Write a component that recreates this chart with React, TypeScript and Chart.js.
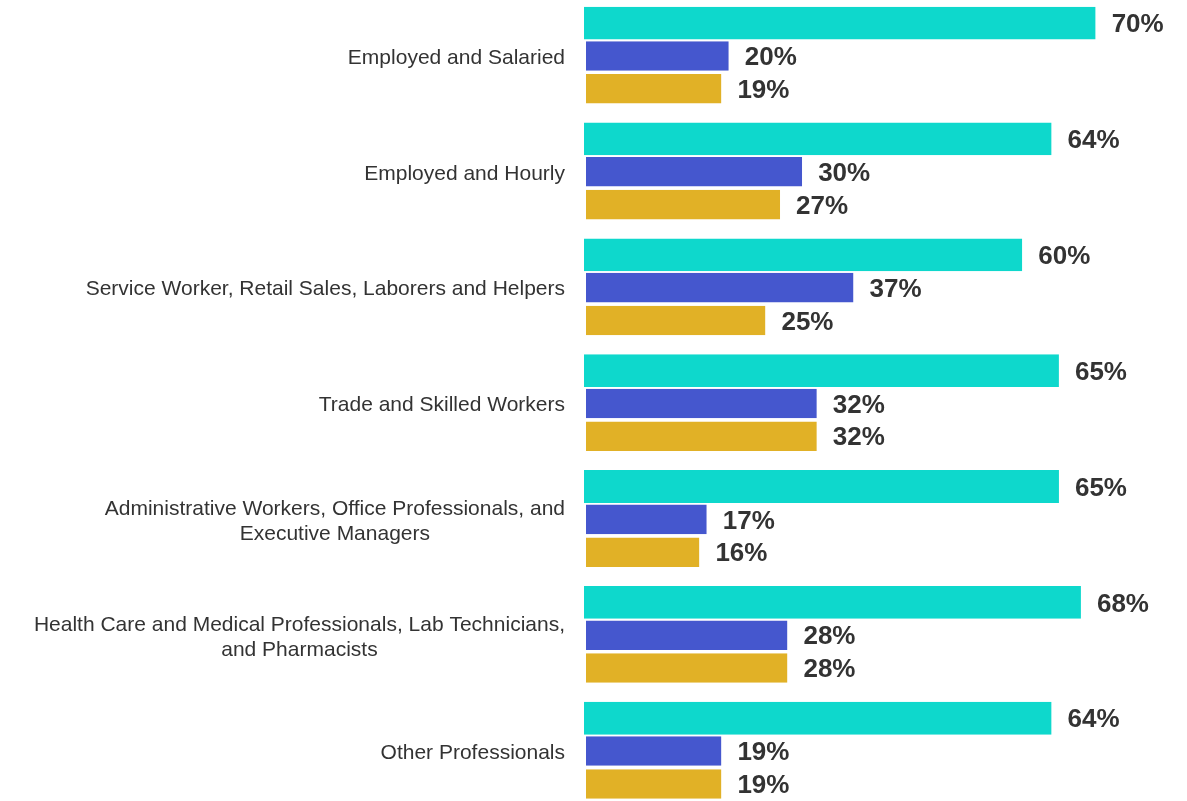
import React, { useEffect, useRef } from "react";
import { Chart, registerables } from "chart.js";

Chart.register(...registerables);

const categories: string[][] = [
  ["Employed and Salaried"],
  ["Employed and Hourly"],
  ["Service Worker, Retail Sales, Laborers and Helpers"],
  ["Trade and Skilled Workers"],
  ["Administrative Workers, Office Professionals, and", "Executive Managers"],
  ["Health Care and Medical Professionals, Lab Technicians,", "and Pharmacists"],
  ["Other Professionals"],
];

const seriesTeal = [70, 64, 60, 65, 65, 68, 64];
const seriesBlue = [20, 30, 37, 32, 17, 28, 19];
const seriesGold = [19, 27, 25, 32, 16, 28, 19];

const colorTeal = "#0ED8CC";
const colorBlue = "#4557CE";
const colorGold = "#E1B126";
const textColor = "#333333";
const fontFamily = '"Liberation Sans", Arimo, Arial, Helvetica, sans-serif';

const yLabelPlugin = {
  id: "yLabels",
  afterDraw(chart: any) {
    const ctx = chart.ctx;
    const yScale = chart.scales.y;
    ctx.save();
    ctx.font = "21px " + fontFamily;
    ctx.fillStyle = textColor;
    ctx.textAlign = "center";
    ctx.textBaseline = "middle";
    const rightEdge = chart.chartArea.left - 17;
    const lineH = 25;
    categories.forEach((lines, i) => {
      const y = yScale.getPixelForTick(i) + 2;
      const widest = Math.max(...lines.map((l) => ctx.measureText(l).width));
      const cx = rightEdge - widest / 2;
      const startY = y - ((lines.length - 1) * lineH) / 2;
      lines.forEach((l, j) => ctx.fillText(l, cx, startY + j * lineH));
    });
    ctx.restore();
  },
};

const valueLabelPlugin = {
  id: "valueLabels",
  afterDatasetsDraw(chart: any) {
    const ctx = chart.ctx;
    ctx.save();
    ctx.font = "bold 26px " + fontFamily;
    ctx.fillStyle = textColor;
    ctx.textAlign = "left";
    ctx.textBaseline = "middle";
    chart.data.datasets.forEach((ds: any, di: number) => {
      const meta = chart.getDatasetMeta(di);
      meta.data.forEach((el: any, i: number) => {
        ctx.fillText(ds.data[i] + "%", el.x + 16, el.y + 2);
      });
    });
    ctx.restore();
  },
};

export default function App() {
  const ref = useRef<HTMLCanvasElement | null>(null);
  useEffect(() => {
    if (!ref.current) return;
    const chart = new Chart(ref.current, {
      type: "bar",
      data: {
        labels: categories.map((c) => c.join(" ")),
        datasets: [
          {
            data: seriesTeal,
            backgroundColor: colorTeal,
            borderColor: "#ffffff",
            borderWidth: { left: 2, top: 0, right: 0, bottom: 0 },
            borderSkipped: false,
            barPercentage: 1.0,
          },
          {
            data: seriesBlue,
            backgroundColor: colorBlue,
            borderColor: "#ffffff",
            borderWidth: { left: 4, top: 0, right: 0, bottom: 0 },
            borderSkipped: false,
            barPercentage: 0.9,
          },
          {
            data: seriesGold,
            backgroundColor: colorGold,
            borderColor: "#ffffff",
            borderWidth: { left: 4, top: 0, right: 0, bottom: 0 },
            borderSkipped: false,
            barPercentage: 0.9,
          },
        ],
      },
      options: {
        indexAxis: "y",
        animation: false,
        responsive: true,
        maintainAspectRatio: false,
        categoryPercentage: 0.85,
        layout: { padding: { left: 582, right: 18, top: 0, bottom: 0 } },
        plugins: {
          legend: { display: false },
          tooltip: { enabled: false },
        },
        events: [],
        scales: {
          x: { display: false, min: 0, max: 80 },
          y: { display: false },
        },
      } as any,
      plugins: [yLabelPlugin, valueLabelPlugin],
    });
    if ((document as any).fonts && (document as any).fonts.ready) {
      (document as any).fonts.ready.then(() => chart.draw());
    }
    return () => chart.destroy();
  }, []);

  return (
    <div
      style={{
        position: "fixed",
        left: 0,
        top: 0,
        width: 1187,
        height: 801,
        overflow: "hidden",
        background: "#ffffff",
      }}
    >
      <div style={{ position: "absolute", left: 0, top: -2, width: 1187, height: 811 }}>
        <canvas ref={ref} />
      </div>
    </div>
  );
}
